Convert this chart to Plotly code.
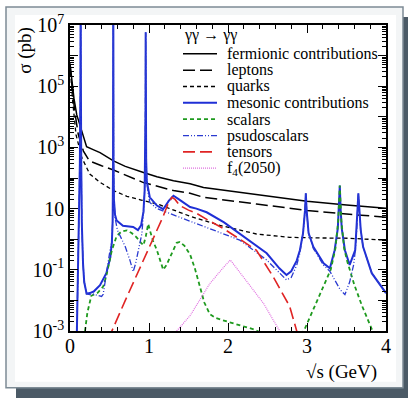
import plotly.graph_objects as go

# ---------------- data (log10 of sigma in pb) ----------------
ferm_x = [0.0, 0.013, 0.05, 0.085, 0.15, 0.21, 0.3, 0.38, 0.55, 0.7, 0.93, 1.1, 1.31, 1.52, 1.69, 2.0, 2.5, 3.0, 3.5, 4.0]
ferm_l = [5.75, 5.42, 4.6, 4.07, 3.53, 3.02, 2.92, 2.83, 2.56, 2.38, 2.18, 2.04, 1.91, 1.81, 1.69, 1.58, 1.4, 1.24, 1.12, 1.01]

lep_x = [0.0, 0.013, 0.06, 0.105, 0.17, 0.245, 0.4, 0.55, 0.93, 1.31, 1.52, 1.69, 2.36, 3.0, 3.5, 4.0]
lep_l = [5.7, 5.3, 4.17, 3.42, 2.88, 2.56, 2.4, 2.26, 1.85, 1.59, 1.5, 1.37, 1.15, 0.94, 0.82, 0.72]

qua_x = [0.0, 0.034, 0.076, 0.15, 0.25, 0.38, 0.55, 0.72, 0.9, 1.14, 1.52, 1.9, 2.36, 2.78, 3.2, 3.54, 4.0]
qua_l = [5.7, 4.5, 3.42, 2.66, 2.13, 1.86, 1.59, 1.4, 1.28, 1.12, 0.75, 0.45, 0.17, 0.06, 0.04, 0.03, -0.03]

mes_x = [0.085, 0.10, 0.115, 0.125, 0.132, 0.135, 0.138, 0.142, 0.15, 0.165, 0.18, 0.21, 0.25, 0.3, 0.38, 0.46,
         0.51, 0.53, 0.54, 0.545, 0.548, 0.551, 0.556, 0.57, 0.59, 0.67, 0.8, 0.86, 0.9, 0.93, 0.945, 0.952,
         0.956, 0.958, 0.960, 0.964, 0.972, 0.99, 1.01, 1.1, 1.18, 1.25, 1.31, 1.37, 1.43, 1.52, 1.6, 1.73,
         1.95, 2.15, 2.49, 2.65, 2.74, 2.8, 2.87, 2.91, 2.95, 2.975, 2.985, 2.995, 3.02, 3.08, 3.21, 3.29,
         3.35, 3.39, 3.405, 3.415, 3.425, 3.44, 3.48, 3.54, 3.61, 3.63, 3.64, 3.65, 3.66, 3.68, 3.71, 3.82, 4.0]
mes_l = [-3.3, -1.5, 0.5, 2.5, 5.0, 8.0, 5.0, 2.5, 0.5, -0.8, -1.4, -1.78, -1.76, -1.71, -1.5, -1.11,
         -0.6, -0.1, 0.6, 2.5, 8.0, 2.5, 1.3, 0.8, 0.61, 0.44, 0.4, 0.3, 0.45, 0.9, 1.6, 2.6,
         4.2, 6.76, 4.2, 2.6, 1.9, 1.57, 1.37, 1.1, 0.98, 1.25, 1.42, 1.32, 1.2, 1.05, 1.0, 0.88,
         0.55, 0.18, -0.46, -0.95, -1.17, -1.05, -0.7, -0.36, 0.2, 0.95, 1.5, 0.95, 0.2, -0.25, -0.79, -0.95,
         -0.36, 0.35, 1.0, 1.75, 1.0, 0.35, -0.36, -0.84, -0.36, 0.35, 1.0, 1.5, 1.0, 0.3, -0.25, -1.11, -1.76]

sca_x = [0.19, 0.22, 0.27, 0.35, 0.42, 0.46, 0.53, 0.59, 0.65, 0.72, 0.78, 0.84, 0.9, 0.93, 0.96, 0.98, 0.99,
         1.01, 1.05, 1.1, 1.14, 1.18, 1.22, 1.27, 1.31, 1.35, 1.39, 1.45, 1.52, 1.58, 1.65, 1.7, 1.77, 1.85,
         2.0, 2.15, 2.33, 2.45, 2.7, 2.96, 3.1, 3.2, 3.3, 3.36, 3.395, 3.415, 3.435, 3.47, 3.51, 3.6, 3.7,
         3.83, 3.9]
sca_l = [-3.0, -2.4, -1.85, -1.75, -1.55, -1.2, -0.36, 0.1, 0.25, 0.29, 0.2, 0.07, -0.12, -0.2, 0.1, 0.45, 0.5,
         0.3, -0.05, -0.36, -0.7, -1.0, -0.85, -0.55, -0.3, -0.12, -0.09, -0.22, -0.5, -0.95, -1.6, -2.07, -2.45, -2.58,
         -2.7, -2.82, -2.95, -3.1, -3.6, -3.0, -2.2, -1.6, -1.0, -0.3, 0.6, 1.75, 0.6, -0.3, -0.73, -1.5, -2.2,
         -3.0, -3.5]

psc_x = [0.085, 0.10, 0.115, 0.125, 0.132, 0.135, 0.138, 0.142, 0.15, 0.165, 0.18, 0.21, 0.25, 0.3, 0.35, 0.4,
         0.42, 0.44, 0.485, 0.51, 0.53, 0.54, 0.545, 0.548, 0.551, 0.556, 0.57, 0.6, 0.7, 0.76, 0.8, 0.83, 0.86,
         0.91, 0.93, 0.945, 0.952, 0.956, 0.958, 0.960, 0.964, 0.972, 0.99, 1.01, 1.1, 1.2, 1.4, 1.52, 1.7, 1.9,
         2.15, 2.49, 2.74, 2.8, 2.87, 2.91, 2.95, 2.975, 2.985, 2.995, 3.02, 3.08, 3.21, 3.29, 3.35, 3.42, 3.48,
         3.54, 3.59, 3.61, 3.63, 3.64, 3.65, 3.66, 3.68, 3.71, 3.82, 4.0]
psc_l = [-3.3, -1.5, 0.5, 2.5, 5.0, 8.0, 5.0, 2.5, 0.5, -0.8, -1.4, -1.79, -1.81, -1.8, -1.83, -1.87,
         -1.8, -1.43, -0.68, -0.3, -0.1, 0.6, 2.5, 8.0, 2.5, 1.3, 0.7, 0.3, -0.25, -0.7, -1.06, -0.8, -0.46,
         0.18, 0.85, 1.6, 2.6, 4.2, 6.76, 4.2, 2.6, 1.85, 1.5, 1.2, 1.0, 0.9, 0.72, 0.58, 0.4, 0.2,
         -0.03, -0.68, -1.33, -1.25, -0.85, -0.45, 0.2, 0.95, 1.5, 0.95, 0.2, -0.3, -0.85, -1.05, -1.35, -1.65, -1.81,
         -1.4, -0.84, -0.4, 0.35, 1.0, 1.5, 1.0, 0.3, -0.25, -1.11, -1.76]

ten_x = [0.5, 0.53, 0.7, 0.89, 1.05, 1.18, 1.24, 1.29, 1.33, 1.39, 1.5, 1.6, 1.75, 1.94, 2.15, 2.36, 2.57, 2.78, 2.87, 2.9]
ten_l = [-3.3, -3.0, -2.0, -0.93, 0.0, 0.75, 1.15, 1.37, 1.3, 1.1, 0.95, 0.85, 0.62, 0.35, 0.0, -0.36, -1.22, -2.19, -3.0, -3.3]

f4_x = [1.3, 1.35, 1.52, 1.77, 1.95, 2.03, 2.19, 2.45, 2.62, 2.68]
f4_l = [-3.3, -3.0, -2.5, -1.45, -0.9, -0.68, -1.22, -2.1, -2.85, -3.1]

x_ticks = [0, 1, 2, 3, 4]
y_label_exps = [-3, -1, 1, 3, 5, 7]

series = [
    ("fermionic contributions", ferm_x, ferm_l, "black", "solid", 1.5),
    ("leptons", lep_x, lep_l, "black", "12px,5px", 1.5),
    ("quarks", qua_x, qua_l, "black", "4px,3px", 1.3),
    ("mesonic contributions", mes_x, mes_l, "#1f2fd6", "solid", 2),
    ("scalars", sca_x, sca_l, "#1e9a1e", "4px,3px", 1.8),
    ("psudoscalars", psc_x, psc_l, "#2a3ad0", "6px,2px,1px,2px,1px,2px", 1.3),
    ("tensors", ten_x, ten_l, "#e02424", "12px,5px", 1.6),
    ("f<sub>4</sub>(2050)", f4_x, f4_l, "#e070e0", "1px,1px", 1.2),
]

fig = go.Figure()
for name, xs, ls, col, dash, w in series:
    fig.add_trace(go.Scatter(x=xs, y=[10 ** v for v in ls], mode="lines", name=name,
                             line=dict(color=col, dash=dash, width=w), showlegend=False))

# ---------------- geometry helpers ----------------
L, R, T, B = 70, 22, 23, 67
W, H = 408, 398
PW, PH = W - L - R, H - T - B

def px(x):
    return (x - L) / PW

def py(y):
    return (H - B - y) / PH

shapes = [
    dict(type="rect", xref="paper", yref="paper", x0=px(16), x1=px(410), y0=py(400), y1=py(15),
         fillcolor="#4b5a66", line=dict(width=0), layer="below"),
    dict(type="rect", xref="paper", yref="paper", x0=px(6), x1=px(403), y0=py(388), y1=py(5),
         fillcolor="#f3f5f6", line=dict(color="#7d8b95", width=1.5), layer="below"),
    dict(type="rect", xref="paper", yref="paper", x0=px(15), x1=px(396), y0=py(382), y1=py(13),
         fillcolor="white", line=dict(width=0), layer="below"),
]

annotations = []
font = "Liberation Serif"
# legend (manual)
annotations.append(dict(text="γγ → γγ", x=px(182), y=py(33), xref="paper", yref="paper", xanchor="left",
                        yanchor="middle", showarrow=False, font=dict(family=font, size=16, color="black")))
row_y0, row_dy = 52.0, 16.45
for i, (name, xs, ls, col, dash, w) in enumerate(series):
    yy = row_y0 + i * row_dy
    shapes.append(dict(type="line", xref="paper", yref="paper", x0=px(183), x1=px(217), y0=py(yy), y1=py(yy),
                       line=dict(color=col, dash=dash, width=w)))
    annotations.append(dict(text=name, x=px(225), y=py(yy), xref="paper", yref="paper", xanchor="left",
                            yanchor="middle", showarrow=False, font=dict(family=font, size=16, color="black")))

annotations.append(dict(text="σ (pb)", x=px(25), y=py(49), xref="paper", yref="paper", textangle=-90,
                        showarrow=False, xanchor="center", yanchor="middle",
                        font=dict(family=font, size=19, color="black")))
annotations.append(dict(text="√s (GeV)", x=px(379), y=py(372), xref="paper", yref="paper",
                        showarrow=False, xanchor="right", yanchor="middle",
                        font=dict(family=font, size=19, color="black")))

y_tickvals = [10.0 ** k for k in range(-3, 8)]
y_ticktext = [("10<sup>%d</sup>" % k if k != 1 else "10") if k in y_label_exps else " " for k in range(-3, 8)]
y_minor = [m * 10.0 ** k for k in range(-3, 7) for m in range(2, 10)]

fig.update_layout(
    width=W, height=H, margin=dict(l=L, r=R, t=T, b=B),
    paper_bgcolor="white", plot_bgcolor="rgba(0,0,0,0)",
    shapes=shapes, annotations=annotations, showlegend=False,
    font=dict(family=font, size=20, color="black"),
)
fig.update_xaxes(range=[0, 4], tickvals=x_ticks, ticktext=[str(v) for v in x_ticks],
                 ticks="inside", ticklen=8, tickwidth=1.2, tickcolor="black",
                 showline=True, linecolor="black", linewidth=1.5, mirror="ticks",
                 showgrid=False, zeroline=False, ticklabelstandoff=-4,
                 minor=dict(ticks="inside", dtick=0.2, ticklen=4, tickwidth=1, tickcolor="black", showgrid=False),
                 tickfont=dict(family=font, size=20))
fig.update_yaxes(type="log", range=[-3, 7], tickvals=y_tickvals, ticktext=y_ticktext,
                 ticks="inside", ticklen=8, tickwidth=1.2, tickcolor="black",
                 showline=True, linecolor="black", linewidth=1.5, mirror="ticks",
                 showgrid=False, zeroline=False,
                 minor=dict(ticks="inside", tickvals=y_minor, ticklen=4, tickwidth=1, tickcolor="black",
                            showgrid=False),
                 tickfont=dict(family=font, size=20))

fig.write_html("out.html")
